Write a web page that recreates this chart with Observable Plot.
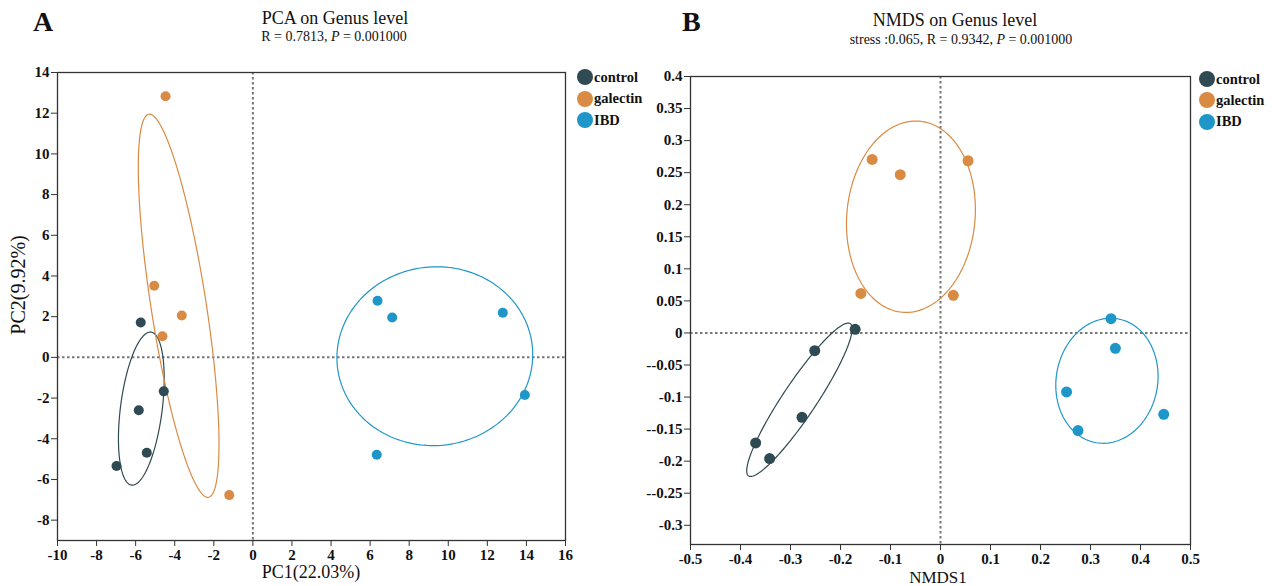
<!DOCTYPE html>
<html><head><meta charset="utf-8">
<script src="https://cdn.jsdelivr.net/npm/d3@7"></script>
<script src="https://cdn.jsdelivr.net/npm/@observablehq/plot@0.6"></script>
<style>
body{margin:0;background:#fff;}
#root{position:relative;width:1272px;height:586px;font-family:"Liberation Serif","Times New Roman",serif;color:#111;overflow:hidden;background:#fff}
.abs{position:absolute;white-space:nowrap;line-height:1}
.ctr{transform:translateX(-50%)}
.panel{position:absolute;top:0}
.leg{position:absolute;display:flex;align-items:center;font-weight:bold;font-size:14.5px;line-height:1;white-space:nowrap}
.leg span.c{display:inline-block;width:16px;height:16px;border-radius:50%;margin-right:1px}
</style></head>
<body><div id="root"></div>
<script>
// ---------- data ----------
const groups = ["control", "galectin", "IBD"];
const groupColors = ["#2f4a52", "#d98b44", "#1e96c8"];

// PCA on Genus level
const pcaGroup = ["control","control","control","control","control",
                  "galectin","galectin","galectin","galectin","galectin",
                  "IBD","IBD","IBD","IBD","IBD"];
const pcaPC1 = [-5.74, -4.56, -5.84, -5.43, -6.98,
                -4.47, -5.05, -3.64, -4.63, -1.21,
                 6.38,  7.13, 12.79, 13.92,  6.34];
const pcaPC2 = [ 1.71, -1.67, -2.60, -4.69, -5.34,
                12.83,  3.52,  2.06,  1.04, -6.77,
                 2.78,  1.96,  2.19, -1.85, -4.79];

// NMDS on Genus level
const nmdsGroup = pcaGroup.slice();
const nmds1 = [-0.1707, -0.2515, -0.2770, -0.3697, -0.3417,
               -0.1367, -0.0805,  0.0551, -0.1593,  0.0257,
                0.3410,  0.3497,  0.2521,  0.2750,  0.4465];
const nmds2 = [ 0.0056, -0.0276, -0.1316, -0.1716, -0.1960,
                0.2707,  0.2468,  0.2686,  0.0617,  0.0586,
                0.0223, -0.0240, -0.0921, -0.1523, -0.1269];

// axis ticks and labels
const pcaXTicks = [-10,-8,-6,-4,-2,0,2,4,6,8,10,12,14,16];
const pcaXLabels = ["-10","-8","-6","-4","-2","0","2","4","6","8","10","12","14","16"];
const pcaYTicks = [-8,-6,-4,-2,0,2,4,6,8,10,12,14];
const pcaYLabels = ["-8","-6","-4","-2","0","2","4","6","8","10","12","14"];
const nmdsXTicks = [-0.5,-0.4,-0.3,-0.2,-0.1,0,0.1,0.2,0.3,0.4,0.5];
const nmdsXLabels = ["-0.5","-0.4","-0.3","-0.2","-0.1","0","0.1","0.2","0.3","0.4","0.5"];
const nmdsYTicks = [0.4,0.35,0.3,0.25,0.2,0.15,0.1,0.05,0,-0.05,-0.1,-0.15,-0.2,-0.25,-0.3];
const nmdsYLabels = ["0.4","0.35","0.3","0.25","0.2","0.15","0.1","0.05","0","--0.05","-0.1","--0.15","-0.2","--0.25","-0.3"];

const ellipseScale = 1.345; // confidence-ellipse radius in sample SDs

// ---------- helpers ----------
const FONT = '"Liberation Serif","Times New Roman",serif';
function rows(g, xs, ys) { return g.map((d, i) => ({group: d, x: xs[i], y: ys[i]})); }
function ellipses(data) {
  const out = [];
  for (const g of groups) {
    const pts = data.filter(d => d.group === g);
    const n = pts.length;
    const mx = d3.mean(pts, d => d.x), my = d3.mean(pts, d => d.y);
    let sxx = 0, syy = 0, sxy = 0;
    for (const p of pts) { const dx = p.x - mx, dy = p.y - my; sxx += dx*dx; syy += dy*dy; sxy += dx*dy; }
    sxx /= (n-1); syy /= (n-1); sxy /= (n-1);
    const tr = sxx + syy, det = sxx*syy - sxy*sxy;
    const disc = Math.sqrt(Math.max(tr*tr/4 - det, 0));
    const l1 = tr/2 + disc, l2 = Math.max(tr/2 - disc, 0);
    const th = 0.5 * Math.atan2(2*sxy, sxx - syy);
    const a = ellipseScale*Math.sqrt(l1), b = ellipseScale*Math.sqrt(l2);
    const N = 180;
    for (let i = 0; i <= N; i++) {
      const t = 2*Math.PI*i/N;
      out.push({group: g,
        x: mx + a*Math.cos(t)*Math.cos(th) - b*Math.sin(t)*Math.sin(th),
        y: my + a*Math.cos(t)*Math.sin(th) + b*Math.sin(t)*Math.cos(th)});
    }
  }
  return out;
}
function labelMap(ticks, labels) { const m = new Map(); ticks.forEach((t, i) => m.set(t, labels[i])); return m; }

function panel(opts) {
  const data = rows(opts.g, opts.xs, opts.ys);
  const ell = ellipses(data);
  const xm = labelMap(opts.xTicks, opts.xLabels), ym = labelMap(opts.yTicks, opts.yLabels);
  const tickText = {fontFamily: FONT, fontSize: 15, fontWeight: "bold", fill: "#111"};
  return Plot.plot({
    width: opts.width, height: 586,
    marginLeft: opts.ml, marginRight: opts.mr, marginTop: opts.mt, marginBottom: opts.mb,
    style: {fontFamily: FONT, fontSize: "15px", fontWeight: "bold", color: "#111", background: "#fff"},
    x: {domain: opts.xDomain},
    y: {domain: opts.yDomain},
    color: {domain: groups, range: groupColors},
    marks: [
      Plot.ruleX([0], {stroke: "#777", strokeWidth: 2, strokeDasharray: "2.5,2.5"}),
      Plot.ruleY([0], {stroke: "#777", strokeWidth: 2, strokeDasharray: "2.5,2.5"}),
      Plot.line(ell, {x: "x", y: "y", z: "group", stroke: "group", strokeWidth: 1.2, curve: "linear"}),
      Plot.dot(data, {x: "x", y: "y", fill: "group", r: opts.r, stroke: "none"}),
      Plot.frame({stroke: "#333", strokeWidth: 1.3}),
      Plot.axisX(opts.xTicks, {tickSize: 6, tickPadding: 3, tickFormat: d => xm.get(d), label: null, stroke: "#333", ...tickText}),
      Plot.axisY(opts.yTicks, {tickSize: 6, tickPadding: 2, tickFormat: d => ym.get(d), label: null, stroke: "#333", ...tickText})
    ]
  });
}

const root = document.getElementById("root");

const a = panel({g: pcaGroup, xs: pcaPC1, ys: pcaPC2, xDomain: [-10, 16], yDomain: [-9, 14],
  xTicks: pcaXTicks, xLabels: pcaXLabels, yTicks: pcaYTicks, yLabels: pcaYLabels,
  width: 590, ml: 57, mr: 25, mt: 72, mb: 46, r: 5});
a.classList.add("panel"); a.style.left = "0px";
root.appendChild(a);

const b = panel({g: nmdsGroup, xs: nmds1, ys: nmds2, xDomain: [-0.5, 0.5], yDomain: [-0.33, 0.4],
  xTicks: nmdsXTicks, xLabels: nmdsXLabels, yTicks: nmdsYTicks, yLabels: nmdsYLabels,
  width: 642, ml: 60, mr: 82, mt: 76, mb: 42, r: 5.5});
b.classList.add("panel"); b.style.left = "630px";
root.appendChild(b);

// ---------- text ----------
function addText(txt, css, html) {
  const d = document.createElement("div");
  d.className = "abs" + (css.center ? " ctr" : "");
  if (html) d.innerHTML = txt; else d.textContent = txt;
  for (const k in css) if (k !== "center") d.style[k] = css[k];
  root.appendChild(d);
  return d;
}
addText("A", {left: "33px", top: "8px", fontSize: "28px", fontWeight: "bold"});
addText("PCA on Genus level", {left: "335px", top: "9px", fontSize: "18px", center: true});
addText("R = 0.7813, <i>P</i> = 0.001000", {left: "334px", top: "30px", fontSize: "14px", center: true}, true);
addText("B", {left: "682px", top: "8px", fontSize: "28px", fontWeight: "bold"});
addText("NMDS on Genus level", {left: "955px", top: "11px", fontSize: "18px", center: true});
addText("stress :0.065, R = 0.9342, <i>P</i> = 0.001000", {left: "961px", top: "33px", fontSize: "14px", center: true}, true);
addText("PC1(22.03%)", {left: "311px", top: "563px", fontSize: "18px", center: true});
addText("NMDS1", {left: "938px", top: "569px", fontSize: "17px", center: true});
const yl = addText("PC2(9.92%)", {left: "18px", top: "285px", fontSize: "20px"});
yl.style.transform = "translate(-50%,-50%) rotate(-90deg)";

function legend(x, ys) {
  groups.forEach((g, i) => {
    const d = document.createElement("div");
    d.className = "leg";
    d.style.left = (x - 8) + "px";
    d.style.top = (ys[i] - 8) + "px";
    d.style.height = "16px";
    d.innerHTML = `<span class="c" style="background:${groupColors[i]}"></span><span>${g}</span>`;
    root.appendChild(d);
  });
}
legend(585, [77, 98.5, 120]);
legend(1207, [79, 100, 121.5]);
</script></body></html>
